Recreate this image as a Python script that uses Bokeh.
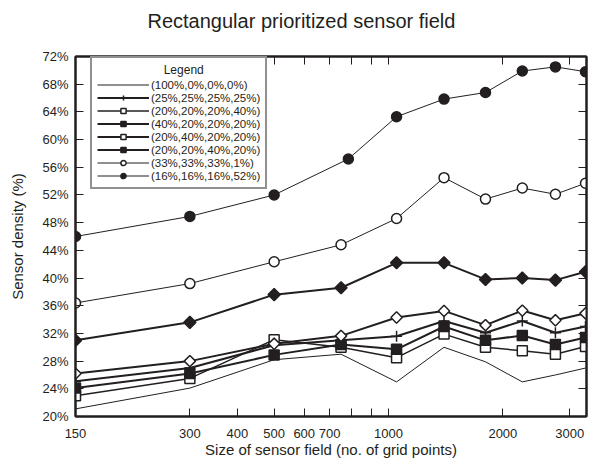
from bokeh.plotting import figure
from bokeh.models import FixedTicker, LinearAxis, LogAxis, Legend, LegendItem, Range1d, Title
from bokeh.embed import file_html
from bokeh.resources import INLINE

# ---- data ----
x_sizes = [150, 300, 500, 750, 1050, 1400, 1800, 2250, 2750, 3300]
x_sizes_52 = [150, 300, 500, 784, 1050, 1400, 1800, 2250, 2750, 3300]

s_100_0_0_0 = [21.1, 24.1, 28.2, 29.0, 25.0, 30.0, 27.9, 25.0, 26.0, 27.0]
s_25_25_25_25 = [25.1, 27.0, 30.3, 31.0, 31.6, 33.8, 32.1, 33.8, 32.1, 33.0]
s_20_20_20_40 = [23.0, 25.5, 31.1, 30.0, 28.5, 31.9, 30.0, 29.5, 29.0, 30.1]
s_40_20_20_20 = [24.1, 26.2, 28.9, 30.4, 29.7, 33.0, 31.0, 31.7, 30.4, 31.4]
s_20_40_20_20 = [26.2, 28.0, 30.5, 31.65, 34.3, 35.25, 33.2, 35.3, 33.9, 34.9]
s_20_20_40_20 = [31.0, 33.6, 37.6, 38.6, 42.2, 42.2, 39.8, 40.0, 39.7, 40.9]
s_33_33_33_1 = [36.4, 39.2, 42.35, 44.8, 48.6, 54.5, 51.4, 53.0, 52.1, 53.7]
s_16_16_16_52 = [46.0, 48.9, 52.0, 57.2, 63.3, 65.85, 66.8, 69.9, 70.5, 69.8]

labels = ["(100%,0%,0%,0%)", "(25%,25%,25%,25%)", "(20%,20%,20%,40%)",
          "(40%,20%,20%,20%)", "(20%,40%,20%,20%)", "(20%,20%,40%,20%)",
          "(33%,33%,33%,1%)", "(16%,16%,16%,52%)"]

x_ticks = [150, 300, 400, 500, 600, 700, 800, 900, 1000, 2000, 3000]
x_tick_labels = ["150", "300", "400", "500", "600", "700", "", "", "1000", "2000", "3000"]
y_ticks = [20, 24, 28, 32, 36, 40, 44, 48, 52, 56, 60, 64, 68, 72]
y_tick_labels = ["20%", "24%", "28%", "32%", "36%", "40%", "44%", "48%", "52%",
                 "56%", "60%", "64%", "68%", "72%"]

TITLE = "Rectangular prioritized sensor field"
FONT = "Liberation Sans"
INK = "#231f20"

p = figure(width=600, height=464, x_axis_type="log",
           x_range=Range1d(150, 3320), y_range=Range1d(20, 72),
           output_backend="svg", toolbar_location=None, title=None,
           min_border_left=75, min_border_right=14, min_border_top=56, min_border_bottom=48,
           x_axis_label="Size of sensor field (no. of grid points)",
           y_axis_label="Sensor density (%)")

p.xgrid.visible = False
p.ygrid.visible = False
p.outline_line_color = INK
p.outline_line_width = 2
p.background_fill_color = "white"
p.border_fill_color = "white"

xa = p.xaxis[0]
ya = p.yaxis[0]
xa.ticker = FixedTicker(ticks=x_ticks)
xa.major_label_overrides = {t: l for t, l in zip(x_ticks, x_tick_labels)}
ya.ticker = FixedTicker(ticks=y_ticks)
ya.major_label_overrides = {t: l for t, l in zip(y_ticks, y_tick_labels)}
xa.major_label_standoff = 12
xa.axis_label_standoff = 0
ya.major_label_standoff = 7
ya.axis_label_standoff = 13

for ax in (xa, ya):
    ax.major_tick_in = 8
    ax.major_tick_out = 0
    ax.minor_tick_in = 0
    ax.minor_tick_out = 0
    ax.axis_line_width = 2
    ax.axis_line_color = INK
    ax.major_tick_line_color = INK
    ax.major_label_text_font = FONT
    ax.major_label_text_font_size = "13px"
    ax.major_label_text_color = INK
    ax.axis_label_text_font = FONT
    ax.axis_label_text_font_size = "15px"
    ax.axis_label_text_font_style = "normal"
    ax.axis_label_text_color = INK

ra = LinearAxis(ticker=FixedTicker(ticks=y_ticks))
ta = LogAxis(ticker=FixedTicker(ticks=x_ticks))
for ax in (ra, ta):
    ax.major_tick_in = 8
    ax.major_tick_out = 0
    ax.minor_tick_in = 0
    ax.minor_tick_out = 0
    ax.axis_line_width = 2
    ax.axis_line_color = INK
    ax.major_tick_line_color = INK
    ax.major_label_text_font_size = "1px"
    ax.major_label_text_color = None
    ax.major_label_standoff = 0
p.add_layout(ra, "right")
p.add_layout(ta, "above")

main_title = Title(text=TITLE, text_font=FONT, text_font_size="20px",
                   text_font_style="normal", text_color=INK,
                   align="left", offset=72,
                   padding={"left": 0, "right": 0, "top": 0, "bottom": 20})
p.add_layout(main_title, "above")

# (xs, ys, marker, line width, fill, size, angle)
series = [
    (x_sizes, s_100_0_0_0, None, 1.0, None, 0, 0.0),
    (x_sizes, s_25_25_25_25, "cross", 2.0, None, 11, 0.0),
    (x_sizes, s_20_20_20_40, "square", 1.5, "white", 10, 0.0),
    (x_sizes, s_40_20_20_20, "square", 2.0, INK, 10, 0.0),
    (x_sizes, s_20_40_20_20, "square", 2.0, "white", 8, 0.785398),
    (x_sizes, s_20_20_40_20, "square", 2.0, INK, 8.5, 0.785398),
    (x_sizes, s_33_33_33_1, "circle", 1.0, "white", 10, 0.0),
    (x_sizes_52, s_16_16_16_52, "circle", 1.0, INK, 10, 0.0),
]

items = []
for (xs, ys, marker, lw, fill, size, ang), lab in zip(series, labels):
    rends = [p.line(xs, ys, line_color=INK, line_width=lw)]
    if marker is not None:
        rends.append(p.scatter(xs, ys, marker=marker, size=size, angle=ang, line_color=INK,
                               fill_color=fill, line_width=1.5))
    items.append(LegendItem(label=lab, renderers=rends))

legend = Legend(items=items, location=(15, 227))
legend.title = "\u00a0" * 20 + "Legend"
legend.title_text_font = FONT
legend.title_text_font_size = "12px"
legend.title_text_font_style = "normal"
legend.title_text_color = INK
legend.title_standoff = 1
legend.label_text_font = FONT
legend.label_text_font_size = "11.5px"
legend.label_text_color = INK
legend.label_height = 12
legend.glyph_height = 13
legend.glyph_width = 52
legend.label_standoff = 2
legend.spacing = 0
legend.padding = 5
legend.margin = 0
legend.border_line_color = INK
legend.border_line_width = 2
legend.background_fill_color = "white"
legend.background_fill_alpha = 1
p.add_layout(legend, "center")

open("out.html", "w").write(file_html(p, INLINE))
